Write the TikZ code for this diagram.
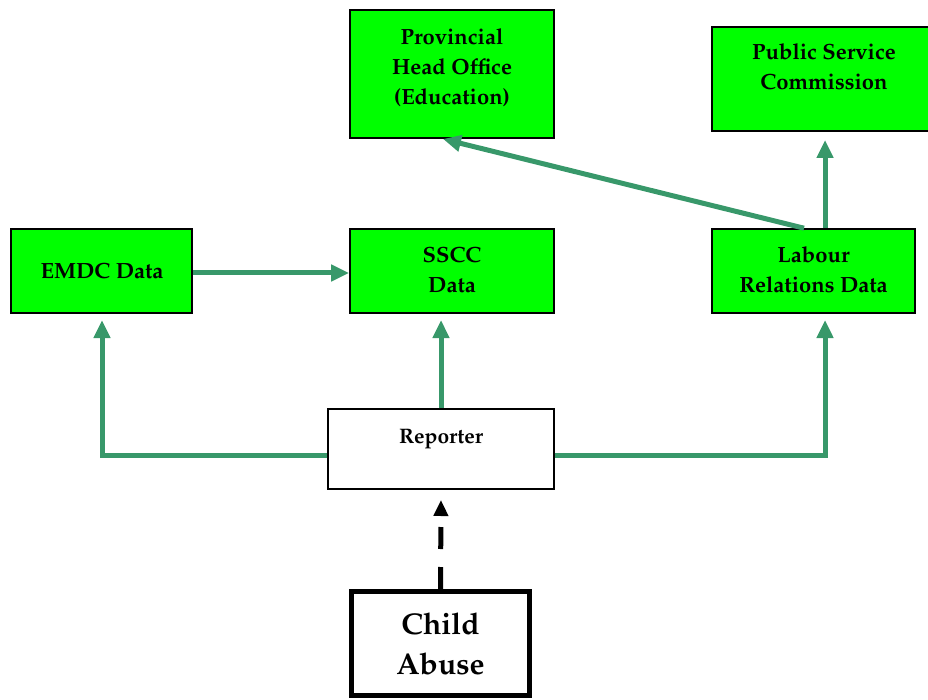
\documentclass[tikz,border=0pt]{standalone}
\usepackage[T1]{fontenc}
\usepackage{mathpazo}
\usetikzlibrary{arrows.meta}
\definecolor{boxgreen}{RGB}{0,255,0}
\definecolor{flow}{RGB}{56,152,106}
\begin{document}
\begin{tikzpicture}[x=1pt,y=-1pt,
  greenbox/.style={draw=black,line width=1.6pt,fill=boxgreen,inner sep=0pt},
  boxtext/.style={align=center,inner sep=0pt,font=\fontsize{22}{30}\selectfont\bfseries},
  flowline/.style={draw=flow,line width=5pt,
    -{Triangle[length=18pt,width=16pt]}},
  repline/.style={draw=flow,line width=5pt}]
\useasboundingbox (0,0) rectangle (928,700);

% data boxes and their captions
\node[greenbox,minimum width=204pt,minimum height=128pt] (pho) at (452,74) {};
\node[boxtext] (photext) at (452,68) {Provincial\\Head Office\\(Education)};
\node[greenbox,minimum width=228pt,minimum height=104pt] (psc) at (826,79) {};
\node[boxtext] (psctext) at (824,67) {Public Service\\Commission};
\node[greenbox,minimum width=181pt,minimum height=84pt] (emdc) at (101.5,271) {};
\node[boxtext] (emdctext) at (102,271) {EMDC Data};
\node[greenbox,minimum width=204pt,minimum height=84pt] (sscc) at (452,271) {};
\node[boxtext] (sscctext) at (452,270) {SSCC\\Data};
\node[greenbox,minimum width=203pt,minimum height=84pt] (lab) at (813.5,271) {};
\node[boxtext] (labtext) at (813.5,270) {Labour\\Relations Data};

% reporter
\node[draw=black,line width=1.2pt,fill=white,minimum width=226pt,minimum height=80pt,inner sep=0pt] (rep) at (441,449) {};
\node[font=\fontsize{21}{24}\selectfont\bfseries,inner sep=0pt] (reptext) at (441,439) {Reporter};

% child abuse
\node[draw=black,line width=5pt,minimum width=178pt,minimum height=104pt,inner sep=0pt,
  align=center,font=\fontsize{30}{40}\selectfont\bfseries] (abuse) at (440.5,643.5) {Child\\Abuse};

% arrow end points, just short of the target boxes
\coordinate (emdcin) at (102,320);
\coordinate (ssccin) at (441,320);
\coordinate (labin) at (825,320);
\coordinate (phoin) at (443,139);
\coordinate (pscin) at (825,140);
\coordinate (repin) at (441,500);

% connectors
\draw[flowline] (emdc.east |- 0,273) -- (sscc.west |- 0,273);
\draw[repline] (rep.west |- 0,455) -- (102,455);
\draw[flowline] (102,457.5) -- (emdcin);
\draw[flowline] (rep.north -| ssccin) -- (ssccin);
\draw[repline] (rep.east |- 0,455) -- (825,455);
\draw[flowline] (825,457.5) -- (labin);
\draw[flowline] (lab.north -| 804,0) -- (phoin);
\draw[flowline] (lab.north -| pscin) -- (pscin);
\draw[draw=black,line width=5pt,dash pattern=on 22pt off 18pt,
  -{Triangle[length=16pt,width=14pt]}] (abuse.north) -- (repin);
\end{tikzpicture}
\end{document}
